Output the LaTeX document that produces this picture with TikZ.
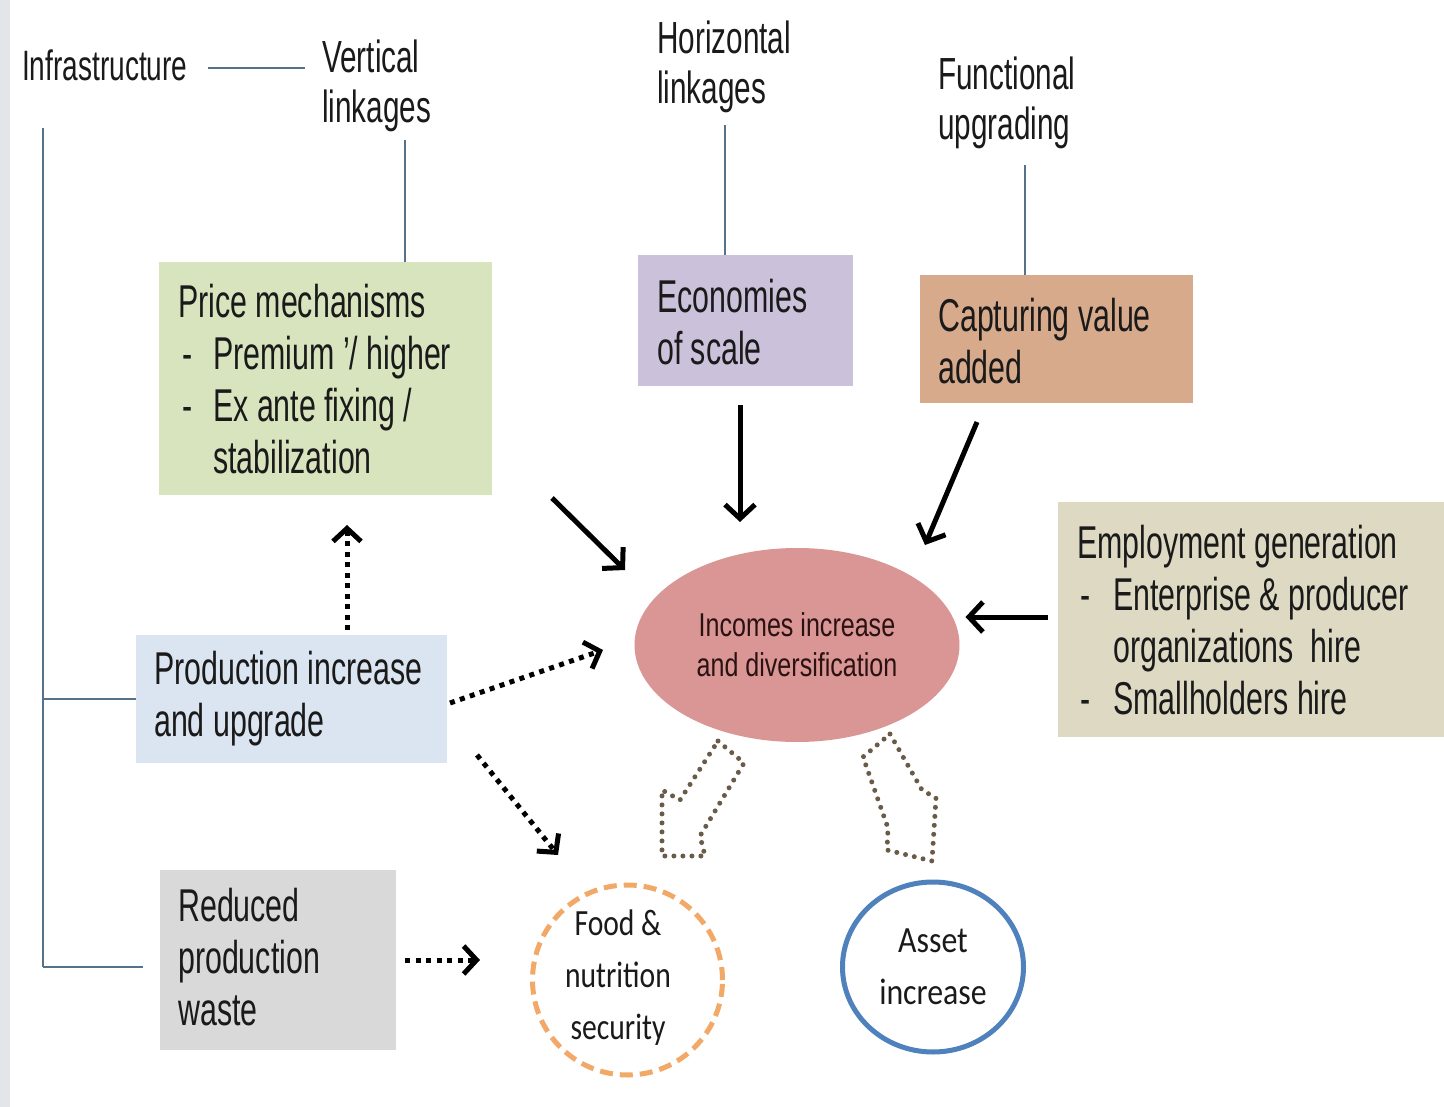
\documentclass[tikz,border=0pt]{standalone}
\usepackage{fontspec}
\setmainfont{Liberation Sans}[FakeStretch=0.66]
\newfontfamily\ellfont{Liberation Sans}[FakeStretch=0.76]
\newfontfamily\calfont{Carlito}[FakeStretch=0.8]
\newfontfamily\calwide{Carlito}[FakeStretch=0.86]
\usetikzlibrary{arrows.meta,shapes.geometric}
\definecolor{greenc}{HTML}{D7E4BD}
\definecolor{purpc}{HTML}{CCC1DA}
\definecolor{capc}{HTML}{D8AA8C}
\definecolor{empc}{HTML}{DDD9C3}
\definecolor{prodc}{HTML}{DBE5F1}
\definecolor{wastec}{HTML}{D9D9D9}
\definecolor{incc}{HTML}{D99694}
\definecolor{foodc}{HTML}{F2A867}
\definecolor{assetc}{HTML}{4F81BD}
\definecolor{linkc}{HTML}{56718A}
\definecolor{txtc}{HTML}{1A1A1A}
\definecolor{inctxt}{HTML}{2A1212}
\definecolor{dotc}{HTML}{6A5A48}
\definecolor{stripc}{HTML}{E4E5E9}
\begin{document}
\begin{tikzpicture}[x=1pt,y=-1pt,
  lnk/.style={draw=linkc, line width=1.8pt},
  fbox/.style={draw=none, inner sep=0pt, outer sep=0pt, anchor=center},
  txt/.style={anchor=west, align=left, inner sep=0pt, text=txtc, font=\fontsize{46}{52}\selectfont},
  lbl/.style={anchor=west, align=left, inner sep=0pt, text=txtc, font=\fontsize{45}{50}\selectfont},
  solarr/.style={draw=black, line width=5pt, -{Straight Barb[length=14pt,width=30pt]}},
  dotarr/.style={draw=black, line width=5pt, dash pattern=on 5pt off 5.5pt, -{Straight Barb[length=13pt,width=28pt]}},
  blockarr/.style={draw=dotc, line width=5pt, line cap=round, dash pattern=on 0pt off 9pt},
]
\path[use as bounding box] (0,0) rectangle (1444,1107);
\fill[white] (0,0) rectangle (1444,1107);
\fill[stripc] (0,0) rectangle (10,1107);

% top labels
\node[lbl, font=\fontsize{42.5}{50}\selectfont] (infra) at (22,65) {Infrastructure};
\node[lbl] (vl) at (322,86) {Vertical\\linkages};
\node[lbl] (hl) at (657,67) {Horizontal\\linkages};
\node[lbl] (fu) at (938,103) {Functional\\upgrading};

% boxes
\node[fbox, fill=greenc, minimum width=333pt, minimum height=233pt] (pm) at (325.5,378.5) {};
\node[txt] (pmt) at (178,379) {Price mechanisms\\
\makebox[35pt][l]{\hspace{4pt}-}Premium ’/ higher\\
\makebox[35pt][l]{\hspace{4pt}-}Ex ante fixing /\\
\hspace*{35pt}stabilization};

\node[fbox, fill=purpc, minimum width=215pt, minimum height=131pt] (eco) at (745.5,320.5) {};
\node[txt] (ecot) at (657,322) {Economies\\of scale};

\node[fbox, fill=capc, minimum width=273pt, minimum height=128pt] (cap) at (1056.5,339) {};
\node[txt] (capt) at (938,341) {Capturing value\\added};

\node[fbox, fill=empc, minimum width=386pt, minimum height=235pt] (emp) at (1251,619.5) {};
\node[txt] (empt) at (1077,620) {Employment generation\\
\makebox[36pt][l]{\hspace{3pt}-}Enterprise \& producer\\
\hspace*{36pt}organizations\ \ hire\\
\makebox[36pt][l]{\hspace{3pt}-}Smallholders hire};

\node[fbox, fill=prodc, minimum width=311pt, minimum height=128pt] (prod) at (291.5,699) {};
\node[txt] (prodt) at (154,699) {Production increase\\and upgrade};

\node[fbox, fill=wastec, minimum width=236pt, minimum height=180pt] (waste) at (278,960) {};
\node[txt] (wastet) at (178,957) {Reduced\\production\\waste};

% central ellipse
\node[ellipse, fill=incc, draw=none, minimum width=325pt, minimum height=194pt, inner sep=0pt, outer sep=0pt,
  align=center, text=inctxt, font=\ellfont\fontsize{33}{40}\selectfont] (inc) at (797,645) {Incomes increase\\and diversification};

% outcome circles
\node[circle, draw=foodc, line width=5pt, dash pattern=on 13pt off 7pt, minimum size=190pt, inner sep=0pt] (food) at (627.5,980) {};
\node[align=center, inner sep=0pt, text=txtc, font=\calfont\fontsize{37}{52}\selectfont] (foodt) at (618,978) {Food \&\\nutrition\\security};
\node[ellipse, draw=assetc, line width=5pt, minimum width=181pt, minimum height=170pt, inner sep=0pt,
  align=center, text=txtc, font=\calwide\fontsize{37}{52}\selectfont] (asset) at (933,967) {Asset\\increase};

% thin connector lines
\draw[lnk] ([shift={(20,3)}]infra.east) -- ([shift={(-17,3)}]infra.east -| vl.west);
\coordinate (vlb) at (405,140);
\draw[lnk] (vlb) -- (vlb |- pm.north);
\coordinate (hlb) at (725,125);
\draw[lnk] (hlb) -- (hlb |- eco.north);
\coordinate (fub) at (1025,165);
\draw[lnk] (fub) -- (fub |- cap.north);
\coordinate (it) at (43,128);
\coordinate (ib) at (43,967);
\draw[lnk] (it) -- (ib);
\draw[lnk] (it |- prod.west) -- (prod.west);
\draw[lnk, shorten >=17pt] (ib) -- (ib -| waste.west);

% solid arrows into incomes
\draw[solarr] ([shift={(60,3)}]pm.south east) -- ([shift={(-172,-75)}]inc.center);
\draw[solarr] ([shift={(-5.5,19)}]eco.south) -- ([shift={(-57,-26)}]inc.north);
\draw[solarr] ([shift={(-79.5,19)}]cap.south) -- ([shift={(128,-100)}]inc.center);
\draw[solarr] ([shift={(-10,-2.5)}]emp.west) -- ([shift={(6,-28)}]inc.east);

% dotted arrows
\draw[dotarr] ([shift={(55.5,-5)}]prod.north) -- ([shift={(21.5,30)}]pm.south);
\draw[dotarr] ([shift={(3,4)}]prod.east) -- ([shift={(-31.5,5)}]inc.west);
\draw[dotarr] ([shift={(30,-8)}]prod.south east) -- ([shift={(-69.5,-125)}]food.center);
\draw[dotarr] ([shift={(9,0)}]waste.east) -- ([shift={(-50,-20)}]food.west);

% dotted block arrows from incomes
\draw[blockarr] (718,741) -- (744,763) -- (700,836) -- (705,856) -- (662,856) -- (662,790) -- (680,800) -- cycle;
\draw[blockarr] (890,734) -- (922,790) -- (936,798) -- (932,861) -- (887,850) -- (888,828) -- (863,757) -- cycle;
\end{tikzpicture}
\end{document}
